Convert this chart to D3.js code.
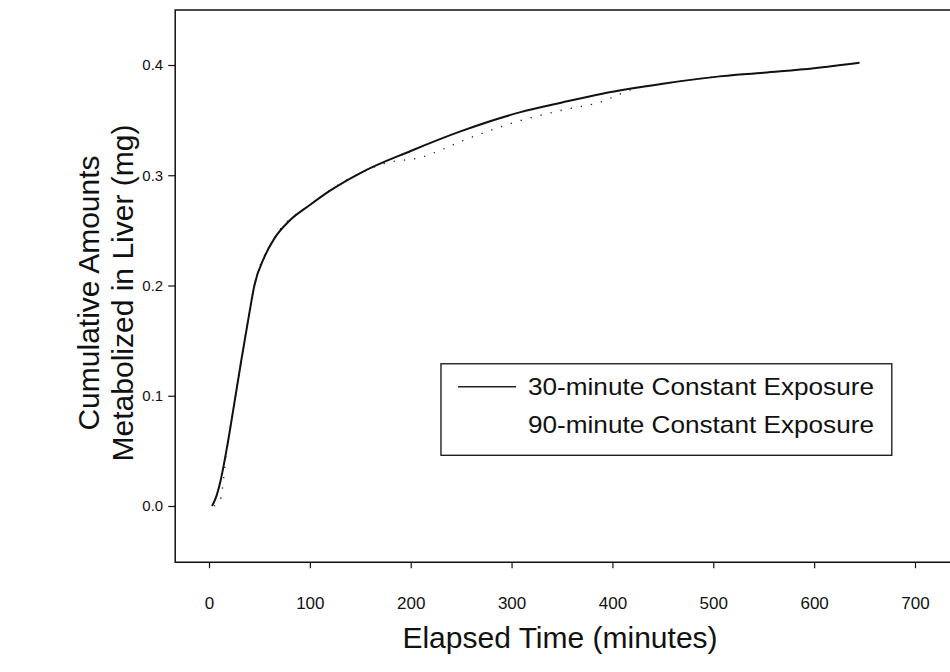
<!DOCTYPE html>
<html>
<head>
<meta charset="utf-8">
<script src="https://cdn.jsdelivr.net/npm/d3@7"></script>
<style>
  body { margin: 0; background: #fff; }
  text { font-family: "Liberation Sans", Arial, sans-serif; fill: #111; }
</style>
</head>
<body>
<div id="chart"></div>
<script>
// tick values and labels
var xTicks = [0, 100, 200, 300, 400, 500, 600, 700];
var yTicks = [0, 0.1, 0.2, 0.3, 0.4];
var yTickLabels = ["0.0", "0.1", "0.2", "0.3", "0.4"];

// 30-minute constant exposure (solid)
var minutes30 = [3, 7, 11, 18, 24, 32, 40, 45, 55, 65, 80, 100, 120, 150, 200, 250, 308, 350, 390, 450, 500, 550, 600, 645];
var amount30 = [0.0, 0.008, 0.021, 0.054, 0.087, 0.132, 0.175, 0.2, 0.226, 0.243, 0.259, 0.273, 0.286, 0.302, 0.322, 0.34, 0.357, 0.366, 0.374, 0.383, 0.389, 0.393, 0.397, 0.402];

// 90-minute constant exposure (dotted, mostly hidden under the solid line)
var minutes90 = [5, 11, 18, 24, 32, 45, 65, 100, 150, 175, 209, 256, 303, 350, 387, 420, 450, 500, 600, 645];
var amount90 = [0.0, 0.005, 0.053, 0.087, 0.132, 0.2, 0.243, 0.273, 0.302, 0.311, 0.316, 0.333, 0.348, 0.359, 0.366, 0.378, 0.383, 0.389, 0.397, 0.402];

var legendLabels = ["30-minute Constant Exposure", "90-minute Constant Exposure"];

var width = 950, height = 672;

var svg = d3.select("#chart")
  .append("svg")
  .attr("width", width)
  .attr("height", height);

// scales
var x = d3.scaleLinear().domain([0, 700]).range([209, 915]);
var y = d3.scaleLinear().domain([0, 0.4]).range([506, 65]);

var frameLeft = x(-33.5), frameTop = y(0.45), frameBottom = y(-0.051), frameRight = width;

// frame: left, top, bottom (right side runs off the page)
svg.append("path")
  .attr("d", "M" + frameRight + "," + frameTop + "H" + frameLeft + "V" + frameBottom + "H" + frameRight)
  .attr("fill", "none")
  .attr("stroke", "#111")
  .attr("stroke-width", 1.5);

// x axis
var xAxis = svg.append("g")
  .attr("transform", "translate(0," + frameBottom + ")")
  .call(d3.axisBottom(x).tickValues(xTicks).tickSize(6).tickPadding(29));
xAxis.select(".domain").remove();
xAxis.selectAll("line").attr("stroke", "#111").attr("stroke-width", 1.2);
xAxis.selectAll("text").style("font-size", "17px").attr("font-family", null);

// y axis
var yAxis = svg.append("g")
  .attr("transform", "translate(" + frameLeft + ",0)")
  .call(d3.axisLeft(y).tickValues(yTicks).tickSize(7).tickPadding(5)
    .tickFormat(function(d, i) { return yTickLabels[i]; }));
yAxis.select(".domain").remove();
yAxis.selectAll("line").attr("stroke", "#111").attr("stroke-width", 1.2);
yAxis.selectAll("text").style("font-size", "15px").attr("font-family", null);

// lines
var line = d3.line()
  .x(function(d) { return x(d[0]); })
  .y(function(d) { return y(d[1]); })
  .curve(d3.curveMonotoneX);

var data90 = minutes90.map(function(m, i) { return [m, amount90[i]]; });
var data30 = minutes30.map(function(m, i) { return [m, amount30[i]]; });

svg.append("path")
  .datum(data90)
  .attr("d", line)
  .attr("fill", "none")
  .attr("stroke", "#222")
  .attr("stroke-width", 1.3)
  .attr("stroke-dasharray", "1.3,9");

svg.append("path")
  .datum(data30)
  .attr("d", line)
  .attr("fill", "none")
  .attr("stroke", "#111")
  .attr("stroke-width", 2);

// legend
var lx0 = x(230), lx1 = x(677), ly0 = y(0.129), ly1 = y(0.046);
var legend = svg.append("g");
legend.append("rect")
  .attr("x", lx0).attr("y", ly0)
  .attr("width", lx1 - lx0).attr("height", ly1 - ly0)
  .attr("fill", "#fff")
  .attr("stroke", "#111")
  .attr("stroke-width", 1.3);

legend.append("line")
  .attr("x1", lx0 + 17).attr("x2", lx0 + 75)
  .attr("y1", ly0 + 23).attr("y2", ly0 + 23)
  .attr("stroke", "#222").attr("stroke-width", 1.6);

legend.selectAll("text.leg")
  .data(legendLabels)
  .enter().append("text")
  .attr("class", "leg")
  .attr("x", lx0 + 87)
  .attr("y", function(d, i) { return ly0 + 31 + i * 38; })
  .style("font-size", "24px")
  .attr("textLength", 346)
  .attr("lengthAdjust", "spacingAndGlyphs")
  .text(function(d) { return d; });

// axis titles
svg.append("text")
  .attr("x", 560).attr("y", 648)
  .attr("text-anchor", "middle")
  .style("font-size", "30px")
  .text("Elapsed Time (minutes)");

var yTitle = svg.append("g")
  .attr("transform", "translate(0," + 293 + ") rotate(-90)");
yTitle.append("text")
  .attr("x", 0).attr("y", 99)
  .attr("text-anchor", "middle")
  .style("font-size", "30px")
  .text("Cumulative Amounts");
yTitle.append("text")
  .attr("x", 0).attr("y", 133)
  .attr("text-anchor", "middle")
  .style("font-size", "30px")
  .text("Metabolized in Liver (mg)");
</script>
</body>
</html>
